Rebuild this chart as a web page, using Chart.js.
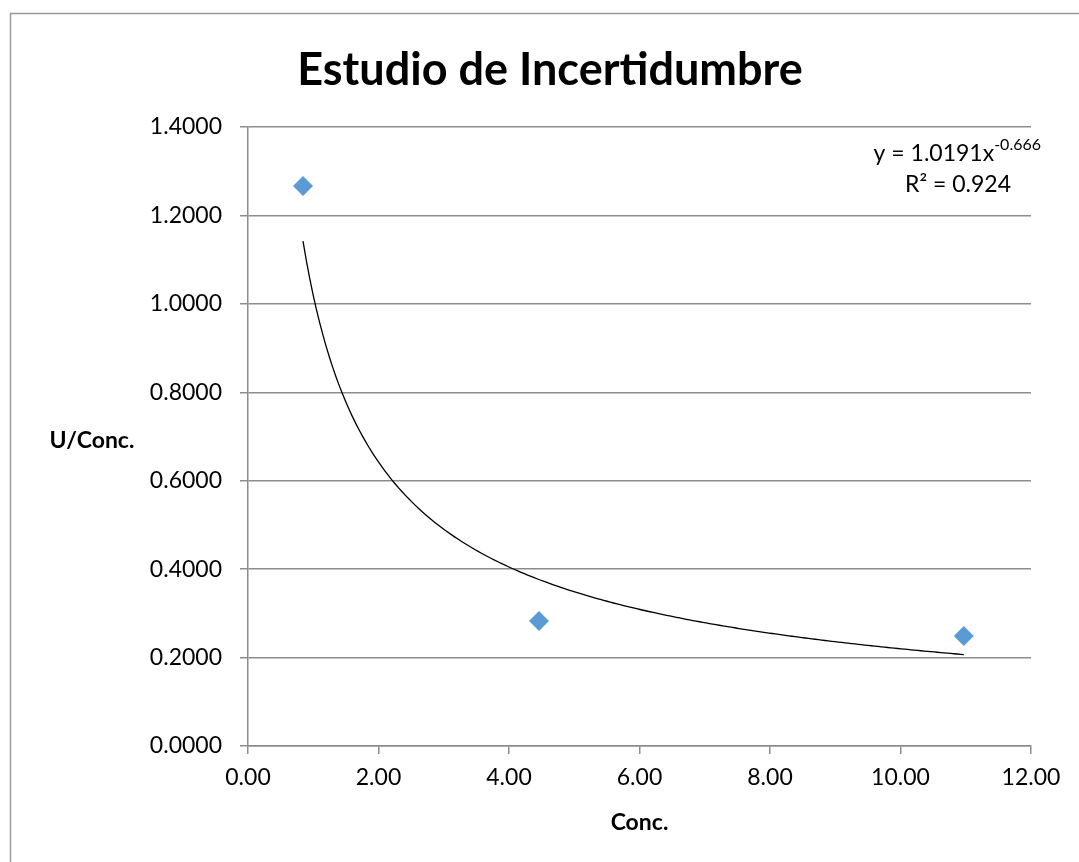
<!DOCTYPE html>
<html>
<head>
<meta charset="utf-8">
<script src="https://cdn.jsdelivr.net/npm/chart.js@4/dist/chart.umd.min.js"></script>
<style>
  html, body { margin: 0; padding: 0; background: #fff; }
  #wrap { width: 1079px; height: 862px; position: relative; }
</style>
</head>
<body>
<div id="wrap"><canvas id="uncertaintyChart"></canvas></div>
<script>
// --- data ---
const concValues = [0.843, 4.46, 10.97];
const uConcValues = [1.2666, 0.2827, 0.2488];
const yTicks = [0, 0.2, 0.4, 0.6, 0.8, 1.0, 1.2, 1.4];
const xTicks = [0, 2, 4, 6, 8, 10, 12];

// power trendline as printed on the chart: y = a * x^b
const trendA = 1.0191;
const trendB = -0.666;
const trendR2 = 0.924;

const FONT = 'Lato, "Open Sans", sans-serif';

// sample the fitted curve over the data range
const xMin = Math.min(...concValues);
const xMax = Math.max(...concValues);
const trendPoints = [];
for (let i = 0; i <= 200; i++) {
    const x = xMin + (xMax - xMin) * i / 200;
    trendPoints.push({ x: x, y: trendA * Math.pow(x, trendB) });
}

const scatterPoints = concValues.map((x, i) => ({ x: x, y: uConcValues[i] }));

// frame, title, axis titles and trendline label
const decorations = {
    id: 'decorations',
    beforeDraw(chart) {
        const ctx = chart.ctx;
        ctx.save();
        ctx.fillStyle = '#fff';
        ctx.fillRect(0, 0, chart.width, chart.height);
        ctx.strokeStyle = '#9a9a9a';
        ctx.lineWidth = 1.5;
        ctx.strokeRect(10.5, 13.5, 2000, 2000);
        ctx.restore();
    },
    afterDraw(chart) {
        const ctx = chart.ctx;
        const area = chart.chartArea;
        ctx.save();
        ctx.fillStyle = '#000';
        ctx.textBaseline = 'middle';
        ctx.textAlign = 'center';

        ctx.font = 'bold 45px ' + FONT;
        ctx.fillText('Estudio de Incertidumbre', 550, 70);

        ctx.font = 'bold 23px ' + FONT;
        ctx.fillText('U/Conc.', 92, 441);
        ctx.fillText('Conc.', (area.left + area.right) / 2, 823);

        // equation + R² in the top-right corner
        ctx.font = '23px ' + FONT;
        ctx.textAlign = 'left';
        const base = 'y = ' + trendA.toFixed(4) + 'x';
        const baseW = ctx.measureText(base).width;
        ctx.font = '16px ' + FONT;
        const exp = trendB.toFixed(3);
        const expW = ctx.measureText(exp).width;
        const eqRight = 1041;
        const eqLeft = eqRight - baseW - expW;
        ctx.font = '23px ' + FONT;
        ctx.fillText(base, eqLeft, 154);
        ctx.font = '16px ' + FONT;
        ctx.fillText(exp, eqLeft + baseW, 145);
        ctx.font = '23px ' + FONT;
        ctx.textAlign = 'right';
        ctx.fillText('R² = ' + trendR2.toFixed(3), 1011, 185);
        ctx.restore();
    }
};

const ctx = document.getElementById('uncertaintyChart').getContext('2d');
new Chart(ctx, {
    type: 'scatter',
    data: {
        datasets: [
            {
                label: 'U/Conc.',
                data: scatterPoints,
                pointStyle: 'rectRot',
                pointRadius: 10,
                pointHoverRadius: 10,
                backgroundColor: '#5b9bd5',
                borderColor: '#5b9bd5',
                borderWidth: 0,
                order: 1
            },
            {
                label: 'Potencial',
                type: 'line',
                data: trendPoints,
                borderColor: '#000',
                borderWidth: 1.3,
                pointRadius: 0,
                fill: false,
                tension: 0,
                order: 2
            }
        ]
    },
    options: {
        responsive: true,
        maintainAspectRatio: false,
        animation: false,
        layout: { padding: { top: 127, right: 48, bottom: 0, left: 0 } },
        plugins: {
            legend: { display: false },
            title: { display: false },
            tooltip: { enabled: false }
        },
        scales: {
            x: {
                type: 'linear',
                min: 0,
                max: 12,
                afterBuildTicks(scale) {
                    scale.ticks = xTicks.map(v => ({ value: v }));
                },
                afterFit(scale) { scale.height = 116; },
                grid: {
                    drawOnChartArea: false,
                    drawTicks: true,
                    tickLength: 8,
                    color: '#8c8c8c',
                    lineWidth: 1.5
                },
                border: { color: '#8c8c8c', width: 1.5 },
                ticks: {
                    color: '#000',
                    font: { family: FONT, size: 23 },
                    padding: 10,
                    maxRotation: 0,
                    callback: v => v.toFixed(2)
                }
            },
            y: {
                type: 'linear',
                min: 0,
                max: 1.4,
                afterBuildTicks(scale) {
                    scale.ticks = yTicks.map(v => ({ value: v }));
                },
                afterFit(scale) { scale.width = 248; },
                grid: {
                    drawOnChartArea: true,
                    drawTicks: true,
                    tickLength: 8,
                    color: '#8c8c8c',
                    lineWidth: 1.5
                },
                border: { color: '#8c8c8c', width: 1.5 },
                ticks: {
                    color: '#000',
                    font: { family: FONT, size: 23 },
                    padding: 18,
                    callback: v => v.toFixed(4)
                }
            }
        }
    },
    plugins: [decorations]
});
</script>
</body>
</html>
